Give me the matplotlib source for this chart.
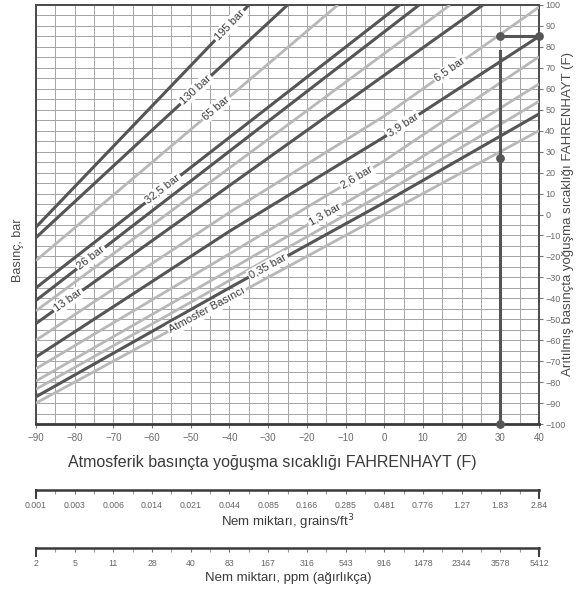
import math
import numpy as np
import matplotlib
matplotlib.use("Agg")
import matplotlib.pyplot as plt
from matplotlib.ticker import MultipleLocator

plt.rcParams["font.family"] = ["Liberation Sans", "DejaVu Sans"]

# atmospheric dew point axis (F), one value per labelled tick
temps_f = [-90, -80, -70, -60, -50, -40, -30, -20, -10, 0, 10, 20, 30, 40]
dewpoint_ticks = list(range(-100, 101, 10))

# pressure lines: atmospheric dew point (x) -> pressure dew point (y)
line_names = ["195 bar", "130 bar", "65 bar", "32,5 bar", "26 bar", "19,5 bar",
              "13 bar", "6,5 bar", "3,9 bar", "2,6 bar", "1,3 bar", "0,7 bar",
              "0,35 bar", "Atmosfer Basıncı"]
line_labels = ["195 bar", "130 bar", "65 bar", "32,5 bar", "26 bar", "",
               "13 bar", "6,5 bar", "3,9 bar", "2,6 bar", "1,3 bar", "",
               "0,35 bar", "Atmosfer Basıncı"]
line_x = [[-90, -35], [-90, -25], [-90, -12], [-90, 4], [-90, 9], [-90, 17],
          [-90, 25.5],
          [-90, -40, 0, 40], [-90, -40, 0, 40], [-90, -40, 0, 40],
          [-90, -40, 0, 40], [-90, -40, 0, 40], [-90, -40, 0, 40],
          [-90, 40]]
line_y = [[-6, 100], [-11, 100], [-22, 100], [-35, 100], [-41, 100], [-46, 100],
          [-52, 100],
          [-60, 1, 47, 99], [-68, -8, 37, 85], [-73.6, -18.8, 25.6, 75.3],
          [-79.5, -26.5, 16.3, 62.3], [-83.4, -31.5, 10.2, 54], [-87, -35, 5.7, 48],
          [-90, 40]]

# worked example on the chart
example_x = [30, 40, 30, 30]
example_y = [85, 85, 27, -100]

# moisture content scales under the chart
grains_labels = ["0.001", "0.003", "0.006", "0.014", "0.021", "0.044", "0.085",
                 "0.166", "0.285", "0.481", "0.776", "1.27", "1.83", "2.84"]
ppm_labels = ["2", "5", "11", "28", "40", "83", "167", "316", "543", "916",
              "1478", "2344", "3578", "5412"]

# ---- style / layout ----
DARK = "#555555"
LIGHT = "#b8b8b8"
GRID = "#a4a4a4"
dark_lines = {"195 bar", "130 bar", "32,5 bar", "26 bar", "13 bar", "3,9 bar", "0,35 bar"}
label_x = {"195 bar": -40, "130 bar": -48.7, "65 bar": -43.5, "32,5 bar": -57.2,
           "26 bar": -75.8, "13 bar": -81.7, "6,5 bar": 17, "3,9 bar": 4.8,
           "2,6 bar": -7.1, "1,3 bar": -15.3, "0,35 bar": -30,
           "Atmosfer Basıncı": -45.8}

W, H = 576, 603
fig = plt.figure(figsize=(W / 100, H / 100), dpi=100)
ax = fig.add_axes([36 / W, 1 - 424 / H, 503 / W, 419 / H])

ax.set_xlim(temps_f[0], temps_f[-1])
ax.set_ylim(dewpoint_ticks[0], dewpoint_ticks[-1])
ax.xaxis.set_minor_locator(MultipleLocator(5))
ax.yaxis.set_minor_locator(MultipleLocator(5))
ax.set_xticks(temps_f)
ax.set_yticks(dewpoint_ticks)
ax.grid(which="both", color=GRID, lw=0.7)
ax.set_axisbelow(True)

ax.yaxis.tick_right()
ax.yaxis.set_label_position("right")
ax.tick_params(axis="both", which="major", labelsize=7, labelcolor="#6a6a6a",
               color="#777777", length=3, width=0.8)
ax.tick_params(axis="y", which="major", pad=1.5, labelsize=6.5)
ax.tick_params(axis="both", which="minor", length=0)
for side in ["left", "right", "top"]:
    ax.spines[side].set_color("#4a4a4a")
    ax.spines[side].set_linewidth(1.4)
ax.spines["bottom"].set_color("#3a3a3a")
ax.spines["bottom"].set_linewidth(2)

for name, lab, xs, ys in zip(line_names, line_labels, line_x, line_y):
    dark = name in dark_lines
    ax.plot(xs, ys, color=DARK if dark else LIGHT,
            lw=2.2 if dark else 2.0, solid_capstyle="butt", zorder=3)
    if lab:
        lx = label_x[name]
        ly = float(np.interp(lx, xs, ys))
        i = max(0, min(int(np.searchsorted(xs, lx)) - 1, len(xs) - 2))
        ang = math.degrees(math.atan2(ys[i + 1] - ys[i], xs[i + 1] - xs[i]))
        ax.text(lx, ly, lab, rotation=ang, transform_rotates_text=True,
                rotation_mode="anchor", ha="center", va="center",
                fontsize=8, color="#3c3c3c", zorder=4,
                bbox=dict(boxstyle="square,pad=0.15", fc="white", ec="none"))

# worked example
ax.plot([example_x[2], example_x[3]], [78, example_y[3]], color="#555555", lw=2.2, zorder=5)
ax.plot([example_x[0], example_x[1]], [example_y[0], example_y[1]], color="#555555", lw=2.2, zorder=5)
ax.scatter(example_x, example_y, s=28, color="#555555", zorder=6, clip_on=False)

ax.set_xlabel("Atmosferik basınçta yoğuşma sıcaklığı FAHRENHAYT (F)",
              fontsize=11.5, color="#3a3a3a")
ax.xaxis.set_label_coords((272 - 36) / 503, -(455 - 424) / 419)
ax.set_ylabel("Arıtılmış basınçta yoğuşma sıcaklığı FAHRENHAYT (F)",
              fontsize=9.5, color="#4a4a4a")
ax.yaxis.set_label_coords((562 - 36) / 503, 0.5)
fig.text(18 / W, 1 - 250 / H, "Basınç, bar", rotation=90, ha="center", va="center",
         fontsize=9, color="#4a4a4a")


def moisture_scale(y_px, labels, title, title_px):
    sx = fig.add_axes([36 / W, 1 - y_px / H, 503 / W, 6 / H])
    sx.set_xlim(temps_f[0], temps_f[-1])
    sx.set_yticks([])
    sx.patch.set_alpha(0)
    for side in ["left", "right", "top"]:
        sx.spines[side].set_visible(False)
    sx.spines["bottom"].set_color("#3a3a3a")
    sx.spines["bottom"].set_linewidth(1.8)
    sx.set_xticks(temps_f)
    sx.set_xticklabels(labels)
    sx.xaxis.set_minor_locator(MultipleLocator(5))
    sx.tick_params(axis="x", which="major", length=3, width=0.8, color="#777777",
                   labelsize=6.3, labelcolor="#666666", pad=5)
    sx.tick_params(axis="x", which="minor", length=3, width=0.8, color="#999999")
    for xe in (temps_f[0], temps_f[-1]):
        sx.plot([xe, xe], [0, -1.4], transform=sx.get_xaxis_transform(),
                color="#3a3a3a", lw=1.4, clip_on=False)
    fig.text(288 / W, 1 - title_px / H, title, ha="center", va="center",
             fontsize=9.5, color="#3a3a3a")


moisture_scale(490, grains_labels, "Nem miktarı, grains/ft$^{3}$", 522)
moisture_scale(548, ppm_labels, "Nem miktarı, ppm (ağırlıkça)", 578)

fig.savefig("out.png", dpi=100)
